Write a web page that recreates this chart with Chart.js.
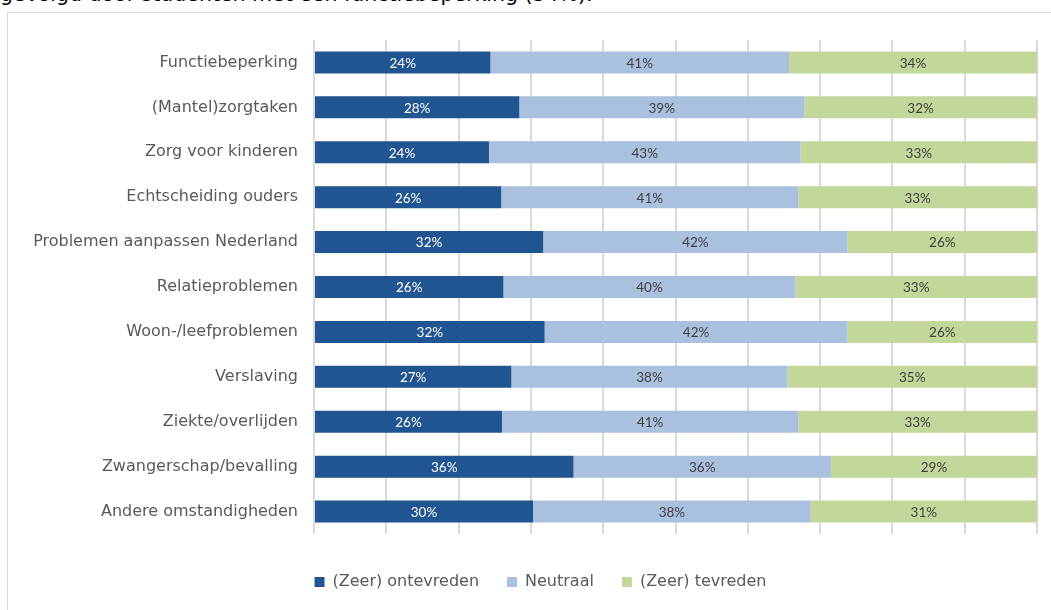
<!DOCTYPE html>
<html>
<head>
<meta charset="utf-8">
<script src="https://cdn.jsdelivr.net/npm/chart.js@4/dist/chart.umd.min.js"></script>
<style>
  body { margin: 0; background: #fff; width: 1051px; height: 610px; overflow: hidden; position: relative; }
  .intro { position: absolute; left: 0; top: -18px; font: 20.5px "DejaVu Sans", sans-serif; color: #000; white-space: nowrap; line-height: 24px; }
  .box { position: absolute; left: 7px; top: 12px; width: 1100px; height: 700px; border: 1px solid #d9d9d9; box-sizing: border-box; }
  #wrap { position: absolute; left: 8px; top: 13px; width: 1043px; height: 597px; }
</style>
</head>
<body>
<div class="intro">gevolgd door studenten met een functiebeperking (34%).</div>
<div class="box"></div>
<div id="wrap"><canvas id="chart"></canvas></div>
<script>
/* ---- data ---- */
const categories = [
  'Functiebeperking',
  '(Mantel)zorgtaken',
  'Zorg voor kinderen',
  'Echtscheiding ouders',
  'Problemen aanpassen Nederland',
  'Relatieproblemen',
  'Woon-/leefproblemen',
  'Verslaving',
  'Ziekte/overlijden',
  'Zwangerschap/bevalling',
  'Andere omstandigheden',
];
const seriesNames = ['(Zeer) ontevreden', 'Neutraal', '(Zeer) tevreden'];
const ontevreden = [24.4, 28.4, 24.2, 25.9, 31.7, 26.2, 31.9, 27.3, 26.0, 35.9, 30.3];
const neutraal   = [41.3, 39.4, 43.1, 41.1, 42.1, 40.4, 41.9, 38.2, 41.0, 35.6, 38.4];
const tevreden   = [34.3, 32.2, 32.7, 33.0, 26.2, 33.4, 26.2, 34.5, 33.0, 28.5, 31.3];
const xTicks = [0, 10, 20, 30, 40, 50, 60, 70, 80, 90, 100];

const colors     = ['#215591', '#a9c1df', '#c4d79b'];
const textColors = ['#ffffff', '#404040', '#404040'];

/* draw the percentage inside every bar */
const barLabels = {
  id: 'barLabels',
  afterDatasetsDraw(chart) {
    const ctx = chart.ctx;
    ctx.save();
    ctx.font = '13.5px Lato, sans-serif';
    ctx.textAlign = 'center';
    ctx.textBaseline = 'middle';
    chart.data.datasets.forEach((ds, i) => {
      chart.getDatasetMeta(i).data.forEach((bar, j) => {
        const cx = (bar.x + bar.base) / 2;
        ctx.fillStyle = textColors[i];
        ctx.fillText(Math.round(ds.data[j]) + '%', cx, bar.y + 1);
      });
    });
    ctx.restore();
  }
};

/* the legend sits a little right of the canvas centre */
const legendShift = {
  id: 'legendShift',
  afterLayout(chart) {
    chart.legend.left += 18;
    chart.legend.right += 18;
  }
};

new Chart(document.getElementById('chart'), {
  type: 'bar',
  data: {
    labels: categories,
    datasets: [ontevreden, neutraal, tevreden].map((d, i) => ({
      label          : seriesNames[i],
      data           : d,
      backgroundColor: colors[i],
      borderWidth    : 0,
      barPercentage  : 0.49,
      categoryPercentage: 1,
    })),
  },
  options: {
    indexAxis: 'y',
    responsive: true,
    maintainAspectRatio: false,
    animation: false,
    layout: { padding: { left: 0, right: 14, top: 27, bottom: 10 } },
    plugins: {
      tooltip: { enabled: false },
      legend: {
        position: 'bottom',
        labels: {
          boxWidth: 10, boxHeight: 10, padding: 28,
          color: '#595959',
          font: { family: 'DejaVu Sans', size: 16 },
        },
      },
    },
    scales: {
      x: {
        stacked: true, min: 0, max: 100,
        afterBuildTicks: s => { s.ticks = xTicks.map(v => ({ value: v })); },
        afterFit: s => { s.height = 12; },
        ticks: { display: false },
        grid: { color: '#d9d9d9', lineWidth: 2, drawTicks: false },
        border: { display: false },
      },
      y: {
        stacked: true,
        afterFit: s => { s.width = 306; },
        ticks: { color: '#595959', padding: 16, font: { family: 'DejaVu Sans', size: 16 } },
        grid: { display: false, drawTicks: false },
        border: { display: false },
      },
    },
  },
  plugins: [barLabels, legendShift],
});
</script>
</body>
</html>
